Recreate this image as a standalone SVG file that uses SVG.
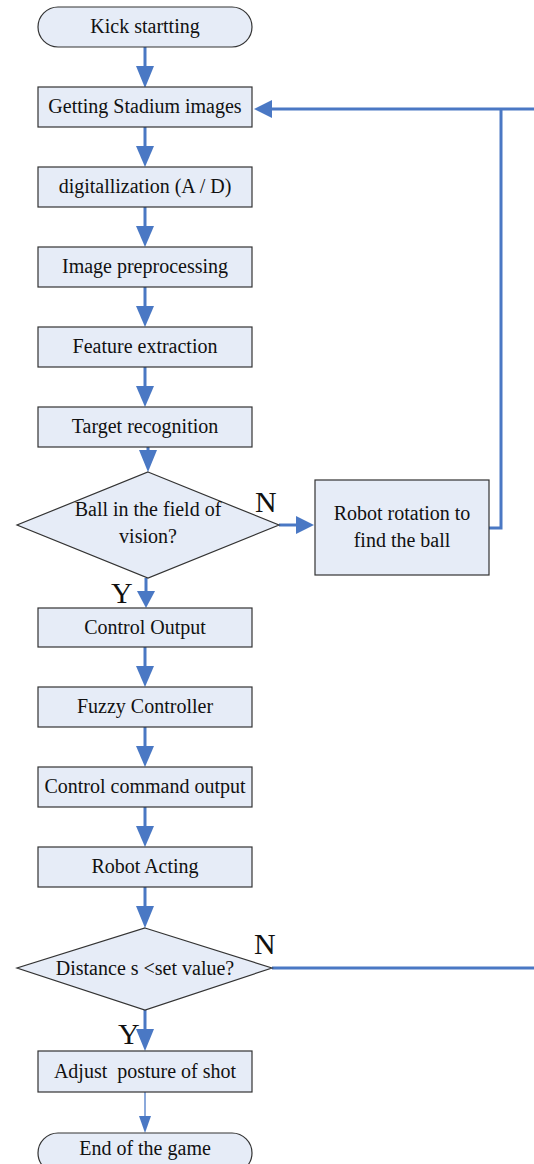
<svg xmlns="http://www.w3.org/2000/svg" width="534" height="1164" viewBox="0 0 534 1164">
<defs>
<style>
.n{fill:#E6ECF7;stroke:#333;stroke-width:1.2}
.t{font-family:"Liberation Serif","Times New Roman",serif;font-size:20px;fill:#111;text-anchor:middle;white-space:pre}
.lb{font-family:"Liberation Serif","Times New Roman",serif;font-size:30px;fill:#111}
.c{fill:none;stroke:#4A78C4;stroke-width:3}
.c2{fill:none;stroke:#6E94D2;stroke-width:1.6}
.h{fill:#4A78C4}
</style>
</defs>
<rect width="534" height="1164" fill="#fff"/>
<g id="connectors">
<path class="c" d="M145,47 V68"/><path class="h" d="M136,66 L154,66 L145,88 z"/>
<path class="c" d="M145,127 V148"/><path class="h" d="M136,146 L154,146 L145,167 z"/>
<path class="c" d="M145,207 V228"/><path class="h" d="M136,226 L154,226 L145,247 z"/>
<path class="c" d="M145,287 V308"/><path class="h" d="M136,306 L154,306 L145,327 z"/>
<path class="c" d="M145,367 V388"/><path class="h" d="M136,386 L154,386 L145,407 z"/>
<path class="c" d="M148,447 V453"/><path class="h" d="M139,450 L157,450 L148,472 z"/>
<path class="c" d="M279,525 H298"/><path class="h" d="M296,516 L296,534 L314,525 z"/>
<path class="c" d="M489,528 H501 V109"/>
<path class="c" d="M534,109 H268"/><path class="h" d="M272,100 L272,118 L254,109 z"/>
<path class="c" d="M146,578 V594"/><path class="h" d="M137,591 L155,591 L146,608 z"/>
<path class="c" d="M145,647 V668"/><path class="h" d="M136,666 L154,666 L145,687 z"/>
<path class="c" d="M145,727 V748"/><path class="h" d="M136,746 L154,746 L145,767 z"/>
<path class="c" d="M145,807 V828"/><path class="h" d="M136,826 L154,826 L145,847 z"/>
<path class="c" d="M145,887 V908"/><path class="h" d="M136,906 L154,906 L145,928 z"/>
<path class="c" d="M272,968 H534"/>
<path class="c" d="M145,1010 V1031"/><path class="h" d="M136,1029 L154,1029 L145,1051 z"/>
<path class="c2" d="M145,1092 V1118"/><path class="h" d="M139,1116 L151,1116 L145,1133 z"/>
</g>
<g id="start"><rect class="n" x="38" y="7" width="214" height="40" rx="20"/><text class="t" x="145" y="33">Kick startting</text></g>
<g id="getting"><rect class="n" x="38" y="87" width="214" height="40"/><text class="t" x="145" y="113">Getting Stadium images</text></g>
<g id="digital"><rect class="n" x="38" y="167" width="214" height="40"/><text class="t" x="145" y="193">digitallization (A / D)</text></g>
<g id="preproc"><rect class="n" x="38" y="247" width="214" height="40"/><text class="t" x="145" y="273">Image preprocessing</text></g>
<g id="feature"><rect class="n" x="38" y="327" width="214" height="40"/><text class="t" x="145" y="353">Feature extraction</text></g>
<g id="target"><rect class="n" x="38" y="407" width="214" height="40"/><text class="t" x="145" y="433">Target recognition</text></g>
<g id="ball"><path class="n" d="M148,472 L279,525 L148,578 L17,525 z"/><text class="t" x="148" y="516">Ball in the field of</text><text class="t" x="148" y="543">vision?</text></g>
<g id="rotate"><rect class="n" x="315" y="480" width="174" height="95"/><text class="t" x="402" y="520">Robot rotation to</text><text class="t" x="402" y="547">find the ball</text></g>
<g id="ctrlout"><rect class="n" x="38" y="608" width="214" height="39"/><text class="t" x="145" y="634">Control Output</text></g>
<g id="fuzzy"><rect class="n" x="38" y="687" width="214" height="40"/><text class="t" x="145" y="713">Fuzzy Controller</text></g>
<g id="cmd"><rect class="n" x="38" y="767" width="214" height="40"/><text class="t" x="145" y="793">Control command output</text></g>
<g id="acting"><rect class="n" x="38" y="847" width="214" height="40"/><text class="t" x="145" y="873">Robot Acting</text></g>
<g id="dist"><path class="n" d="M145,928 L272,968 L145,1010 L17,968 z"/><text class="t" x="145" y="975">Distance s &lt;set value?</text></g>
<g id="adjust"><rect class="n" x="38" y="1051" width="214" height="41"/><text class="t" x="145" y="1078">Adjust  posture of shot</text></g>
<g id="end"><rect class="n" x="38" y="1133" width="214" height="40" rx="20"/><text class="t" x="145" y="1155">End of the game</text></g>
<g id="labels">
<text class="lb" x="255" y="512">N</text>
<text class="lb" x="111" y="603">Y</text>
<text class="lb" x="254" y="954">N</text>
<text class="lb" x="118" y="1044">Y</text>
</g>
</svg>
